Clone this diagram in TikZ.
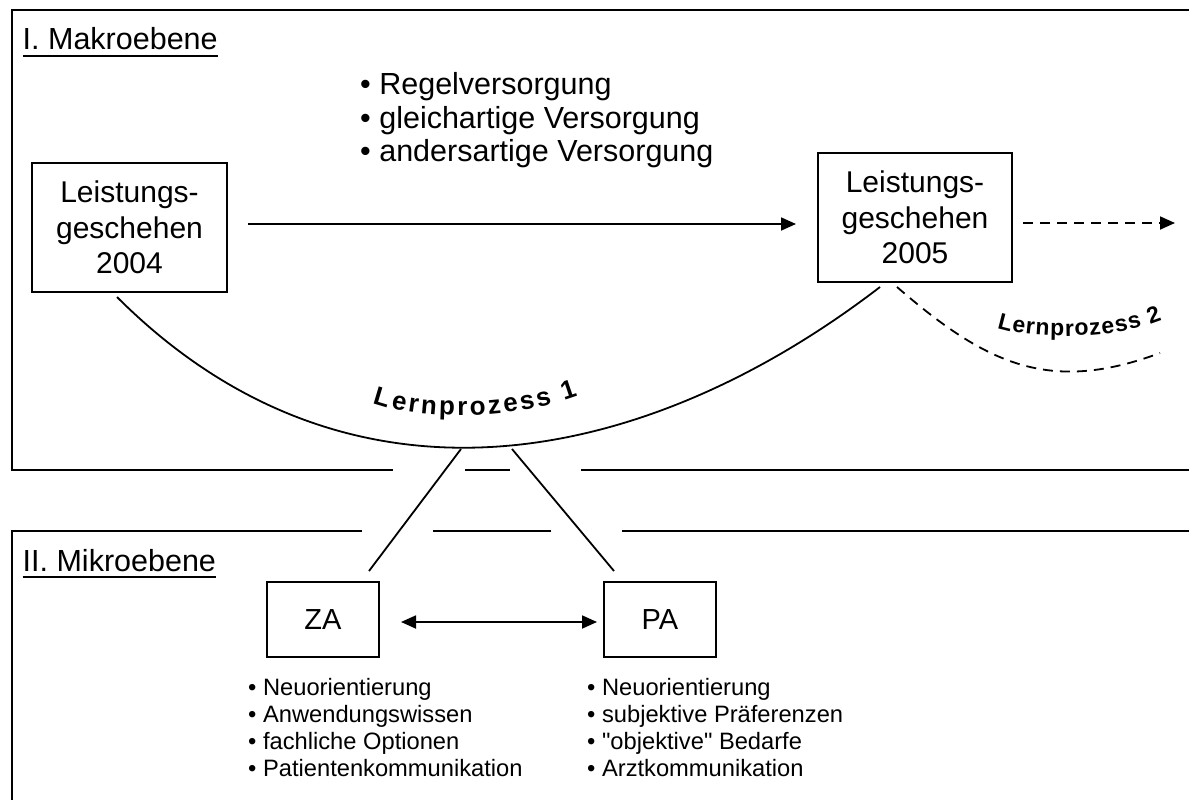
\documentclass[tikz,border=0pt]{standalone}
\usepackage{fontspec}
\setmainfont{Liberation Sans}
\newfontfamily\qfont{Liberation Sans}[Ligatures=TeXOff]
\usetikzlibrary{arrows.meta,decorations.text}
\begin{document}
\begin{tikzpicture}[x=1pt,y=-1pt,
  box/.style={draw, line width=2pt, align=center, inner sep=0pt, font=\fontsize{30}{35.5}\selectfont},
  smallbox/.style={draw, line width=2pt, inner sep=0pt, minimum width=112pt, minimum height=75pt, font=\fontsize{29}{34}\selectfont},
  panel/.style={line width=2pt},
  conn/.style={line width=1.8pt},
  tip/.style={-{Triangle[length=15pt,width=13pt]}},
  dtip/.style={{Triangle[length=15pt,width=13pt]}-{Triangle[length=15pt,width=13pt]}},
  dsh/.style={dash pattern=on 10pt off 7pt},
  title/.style={inner sep=0pt, anchor=base west, font=\fontsize{30.5}{36}\selectfont},
  ulin/.style={line width=2.4pt},
  list/.style={inner sep=0pt, anchor=base west}
]
\useasboundingbox (0,0) rectangle (1189,800);
\clip (0,0) rectangle (1189,800);

% panels
\draw[panel] (1195,10) -- (12,10) -- (12,470) -- (393,470);
\draw[panel] (465,470) -- (510,470);
\draw[panel] (581,470) -- (1195,470);
\draw[panel] (1195,531) -- (622,531);
\draw[panel] (551,531) -- (433,531);
\draw[panel] (362,531) -- (12,531) -- (12,805);

% titles
\node[title] (t1) at (22.5,50) {I. Makroebene};
\draw[ulin] ([yshift=-6pt]t1.base west) -- ([yshift=-6pt]t1.base east);
\node[title] (t2) at (22.5,571) {II. Mikroebene};
\draw[ulin] ([yshift=-6pt]t2.base west) -- ([yshift=-6pt]t2.base east);

% top list
\node[list] (toplist) at (360,95) {\fontsize{30.5}{33.5}\selectfont\begin{tabular}[t]{@{}l@{}}• Regelversorgung\\ • gleichartige Versorgung\\ • andersartige Versorgung\end{tabular}};

% boxes
\node[box, minimum width=195pt, minimum height=129pt] (b2004) at (129.5,227.5) {Leistungs-\\geschehen\\2004};
\node[box, minimum width=194pt, minimum height=129pt] (b2005) at (915,217.5) {Leistungs-\\geschehen\\2005};

\draw[conn,tip,shorten <=20pt,shorten >=21pt] ([yshift=3.5pt]b2004.east) -- ([yshift=-6.5pt]b2005.west);
\coordinate (cont) at (1175,223);
\draw[conn,tip,dsh,shorten <=10pt] ([yshift=-5.5pt]b2005.east) -- (cont);

% Lernprozess 1
\coordinate (lp1a) at (117,297);
\coordinate (lp1b) at (880,287);
\draw[conn] (lp1a) .. controls (350,530) and (647,466) .. (lp1b);
\path[decorate, decoration={text along path, text align=fit to path,
  text={|\fontsize{26}{26}\selectfont\bfseries|Lernprozess 1}}]
  (373,403) .. controls (420,420) and (510,421) .. (578,396);

% Lernprozess 2
\coordinate (lp2a) at (897,287);
\coordinate (lp2b) at (1160,353);
\draw[conn,dsh] (lp2a) .. controls (987,365) and (1050,394) .. (lp2b);
\path[decorate, decoration={text along path, text align=fit to path,
  text={|\fontsize{23}{23}\selectfont\bfseries|Lernprozess 2}}]
  (997,328) .. controls (1030,339) and (1110,341) .. (1162,320);

% micro level
\node[smallbox] (za) at (323,619.5) {ZA};
\node[smallbox] (pa) at (660,619.5) {PA};
\draw[conn,dtip,shorten <=21pt,shorten >=6pt] ([yshift=-2.5pt]za.east) -- ([yshift=-2.5pt]pa.west);

\coordinate (lpL) at (461,449);
\coordinate (lpR) at (512,449);
\coordinate (zaT) at (369,571);
\coordinate (paT) at (614,571);
\draw[conn] (lpL) -- (zaT);
\draw[conn] (lpR) -- (paT);

\node[list] (zalist) at (248,695) {\fontsize{23.7}{27.3}\selectfont\begin{tabular}[t]{@{}l@{}}• Neuorientierung\\ • Anwendungswissen\\ • fachliche Optionen\\ • Patientenkommunikation\end{tabular}};
\node[list] (palist) at (587,695) {\fontsize{23.7}{27.3}\selectfont\begin{tabular}[t]{@{}l@{}}• Neuorientierung\\ • subjektive Präferenzen\\ • {\qfont "objektive"} Bedarfe\\ • Arztkommunikation\end{tabular}};
\end{tikzpicture}
\end{document}
